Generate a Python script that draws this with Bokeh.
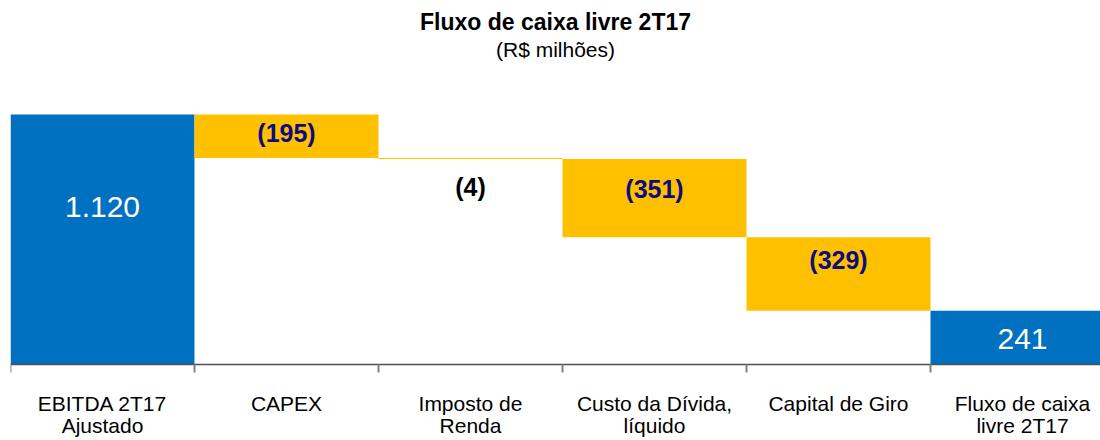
from bokeh.plotting import figure
from bokeh.models import Range1d, FixedTicker, Title, ColumnDataSource
from bokeh.core.properties import value
from bokeh.embed import file_html
from bokeh.resources import INLINE

# ---- data ----
categories = ["EBITDA 2T17\nAjustado", "CAPEX", "Imposto de\nRenda",
              "Custo da Dívida,\nlíquido", "Capital de Giro", "Fluxo de caixa\nlivre 2T17"]
amounts = [1120, -195, -4, -351, -329, 241]
kinds = ["total", "delta", "delta", "delta", "delta", "total"]
value_labels = ["1.120", "(195)", "(4)", "(351)", "(329)", "241"]

BLUE = "#0070C0"
YELLOW = "#FFC000"
NAVY = "#0C0C80"
FONT = "Liberation Sans"

# waterfall geometry from data
bottoms, tops = [], []
running = 0
for a, k in zip(amounts, kinds):
    if k == "total":
        bottoms.append(0)
        tops.append(a)
        running = a
    else:
        tops.append(running)
        running = running + a
        bottoms.append(running)

xs = list(range(len(categories)))
colors = [BLUE if k == "total" else YELLOW for k in kinds]

src = ColumnDataSource(dict(left=[x for x in xs], right=[x + 1 for x in xs],
                            bottom=bottoms, top=tops, color=colors))

W, H = 1100, 440
FRAME_W = 1090
CAT_W = 184
FRAME_TOP = 70
BASELINE = 364
PX_PER_UNIT = 250 / 1120

p = figure(width=W, height=H, output_backend="svg", toolbar_location=None,
           x_range=Range1d(0, FRAME_W / CAT_W),
           y_range=Range1d(-(H - BASELINE) / PX_PER_UNIT, (BASELINE - FRAME_TOP) / PX_PER_UNIT),
           min_border_left=10, min_border_right=0, min_border_top=FRAME_TOP,
           min_border_bottom=0)
p.outline_line_color = None
p.background_fill_color = "white"
p.border_fill_color = "white"
p.grid.visible = False
p.yaxis.visible = False

p.quad(left="left", right="right", bottom="bottom", top="top", color="color",
       line_color=None, source=src)

# value labels
y_offsets = [92, 18, 29, 30, 23, 28]
for i, (lab, k) in enumerate(zip(value_labels, kinds)):
    if k == "total":
        color, size, style = "white", "30px", "normal"
    else:
        color = "black" if abs(amounts[i]) < 10 else NAVY
        size, style = "25px", "bold"
    p.text(x=[xs[i] + 0.5], y=[tops[i]], text=[lab], text_align="center",
           text_baseline="middle", y_offset=y_offsets[i], text_color=color,
           text_font=value(FONT), text_font_size=size, text_font_style=style)

# x axis at value 0: labels at centres, tick marks at boundaries
ax = p.xaxis[0]
ax.fixed_location = 0
ax.ticker = FixedTicker(ticks=[x + 0.5 for x in xs], minor_ticks=list(range(len(categories) + 1)))
ax.major_label_overrides = {x + 0.5: c for x, c in zip(xs, categories)}
ax.major_tick_out = 0
ax.major_tick_in = 0
ax.minor_tick_out = 8
ax.minor_tick_in = 0
ax.minor_tick_line_color = "#808080"
ax.minor_tick_line_width = 2
ax.axis_line_color = "#505050"
ax.axis_line_width = 1.5
ax.major_label_standoff = 19
ax.major_label_text_font = FONT
ax.major_label_text_font_size = "21px"
ax.major_label_text_color = "black"
ax.major_label_text_line_height = 0.98

# titles
sub = Title(text="(R$ milhões)", align="center", offset=39, text_font=FONT,
            text_font_size="21px", text_font_style="normal", text_color="black",
            standoff=19)
main = Title(text="Fluxo de caixa livre 2T17", align="center", offset=13, text_font=FONT,
             text_font_size="23px", text_font_style="bold", text_color="black",
             standoff=-16)
p.add_layout(sub, "above")
p.add_layout(main, "above")

open("out.html", "w").write(file_html(p, INLINE))
